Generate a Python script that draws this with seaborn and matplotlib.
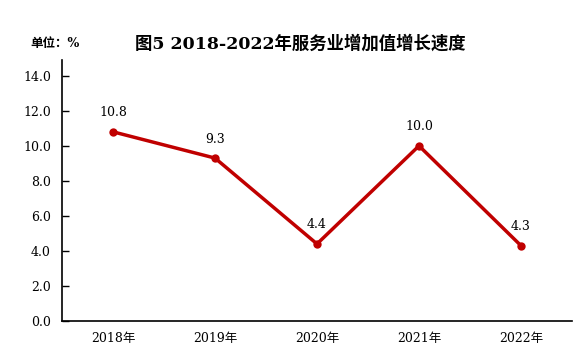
import matplotlib
matplotlib.use("Agg")
import matplotlib.pyplot as plt
import seaborn as sns
import pandas as pd
from matplotlib.ticker import FixedLocator, NullFormatter

years = ["2018年", "2019年", "2020年", "2021年", "2022年"]
growth = [10.8, 9.3, 4.4, 10.0, 4.3]
y_ticks = [0, 2, 4, 6, 8, 10, 12, 14]

sns.set_style("white")
plt.rcParams['font.family'] = ['DejaVu Serif', 'Noto Sans CJK SC']
plt.rcParams['text.color'] = 'black'
plt.rcParams['xtick.color'] = 'black'
plt.rcParams['ytick.color'] = 'black'

df = pd.DataFrame({"year": years, "growth": growth, "pos": range(len(years))})

fig = plt.figure(figsize=(5.8, 3.56), dpi=100)
ax = fig.add_axes([62 / 580, 1 - 321 / 356, (572 - 62) / 580, (321 - 60) / 356])

sns.lineplot(data=df, x="pos", y="growth", ax=ax, color="#C00000",
             linewidth=2.5, marker="o", markersize=6, markeredgewidth=0)

for x, v in zip(df["pos"], growth):
    ax.annotate(f"{v:.1f}", (x, v), xytext=(0, 9), textcoords="offset points",
                ha="center", va="bottom", fontsize=9, color="black")

ax.set_xlim(-0.5, len(years) - 0.5)
ax.set_ylim(0, 14.9)
ax.set_yticks(y_ticks)
ax.set_yticklabels([f"{t:.1f}" for t in y_ticks], fontsize=9)
ax.set_xticks(range(len(years)))
ax.set_xticklabels(years, fontsize=9)
ax.xaxis.set_minor_locator(FixedLocator([i - 0.5 for i in range(len(years) + 1)]))
ax.xaxis.set_minor_formatter(NullFormatter())
ax.tick_params(axis="x", which="major", length=0, pad=8, labelcolor="black")
ax.tick_params(axis="x", which="minor", direction="in", length=5, width=1, color="black")
ax.tick_params(axis="y", direction="in", length=5, width=1, color="black", pad=8, left=True,
               labelcolor="black")
ax.set_xlabel("")
ax.set_ylabel("")

for side in ["top", "right"]:
    ax.spines[side].set_visible(False)
for side in ["left", "bottom"]:
    ax.spines[side].set_color("black")
    ax.spines[side].set_linewidth(1.2)

fig.text(300 / 580, 1 - 44 / 356, "图5 2018-2022年服务业增加值增长速度", ha="center", va="center",
         fontsize=12.5, fontweight="bold", color="black")
fig.text(30 / 580, 1 - 44 / 356, "单位：%", ha="left", va="center", fontsize=9,
         fontweight="bold", color="black")

fig.savefig("out.png", dpi=100)
plt.close(fig)
